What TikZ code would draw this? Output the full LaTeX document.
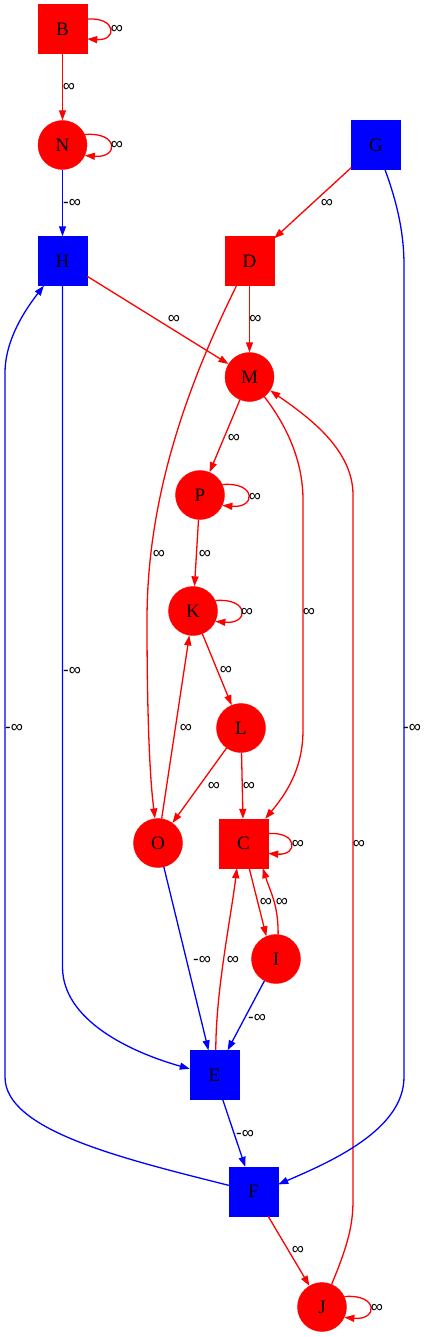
\documentclass[tikz,border=0pt]{standalone}
\usepackage{fontspec}
\setmainfont{Liberation Serif}
\newfontfamily\lblfont{Liberation Sans}
\usetikzlibrary{arrows.meta}
\definecolor{gred}{HTML}{FF0000}
\definecolor{gblue}{HTML}{0000FF}
\tikzset{
  sq/.style={rectangle, minimum width=49pt, minimum height=49pt, inner sep=0pt, font=\fontsize{19}{19}\selectfont},
  ci/.style={circle, minimum size=49pt, inner sep=0pt, font=\fontsize{19}{19}\selectfont},
  rednode/.style={fill=gred, draw=gred},
  bluenode/.style={fill=gblue, draw=gblue},
  edge/.style={line width=1.3pt, -{Triangle[length=10pt,width=7pt]}},
  redge/.style={edge, draw=gred},
  bedge/.style={edge, draw=gblue},
  lbl/.style={inner sep=0pt, font=\lblfont\fontsize{17}{17}\selectfont}
}
\begin{document}
\begin{tikzpicture}[x=1pt,y=-1pt]
\useasboundingbox (0,0) rectangle (429,1337);
% nodes
\node[sq,rednode] (B) at (62.5,29) {B};
\node[ci,rednode] (N) at (62.5,145) {N};
\node[sq,bluenode] (G) at (376,145) {G};
\node[sq,bluenode] (H) at (62.5,261) {H};
\node[sq,rednode] (D) at (249.5,261) {D};
\node[ci,rednode] (M) at (249.5,377) {M};
\node[ci,rednode] (P) at (200,495) {P};
\node[ci,rednode] (K) at (193,611) {K};
\node[ci,rednode] (L) at (241,728) {L};
\node[ci,rednode] (O) at (158,843) {O};
\node[sq,rednode] (C) at (243.5,843.5) {C};
\node[ci,rednode] (I) at (276,959) {I};
\node[sq,bluenode] (E) at (214.5,1075) {E};
\node[sq,bluenode] (F) at (253.5,1191.5) {F};
\node[ci,rednode] (J) at (322,1307) {J};

% self loops
\draw[redge] (B.22) .. controls +(30,-2) and +(30,2) .. (B.-22);
\draw[redge] (N.25) .. controls +(34,-3) and +(34,3) .. (N.-25);
\draw[redge] (P.25) .. controls +(34,-3) and +(34,3) .. (P.-25);
\draw[redge] (K.25) .. controls +(34,-3) and +(34,3) .. (K.-25);
\draw[redge] (C.22) .. controls +(30,-2) and +(30,2) .. (C.-22);
\draw[redge] (J.25) .. controls +(34,-3) and +(34,3) .. (J.-25);

% straight edges
\draw[redge] (B) -- (N);
\draw[bedge] (N) -- (H);
\draw[redge] (G) -- (D);
\draw[redge] (H) -- (M);
\draw[redge] (D) -- (M);
\draw[redge] (M) -- (P);
\draw[redge] (P) -- (K);
\draw[redge] (K) -- (L);
\draw[redge] (L) -- (O);
\draw[redge] (L) -- (C);
\draw[redge] (O) -- (K);
\draw[bedge] (O) -- (E);
\draw[redge] (C.-77) -- (I.113);
\draw[redge] (I.85) .. controls +(0,-30) and +(8,25) .. (C.-52);
\draw[redge] (E.87) .. controls +(0,-60) and +(-6,50) .. (C.-105);
\draw[bedge] (I) -- (E);
\draw[bedge] (E) -- (F);
\draw[redge] (F) -- (J);

% curved edges
\draw[redge] ([xshift=-13pt]D.south) .. controls (185,390) and (147,500) .. (147,620)
   .. controls (147,720) and (150,780) .. (O.97);
\draw[redge] (M.-53) .. controls (290,430) and (303,465) .. (303,500) -- (303,730)
   .. controls (303,770) and (285,795) .. ([xshift=-3pt]C.north east);
\draw[redge] (J.67) .. controls (348,1245) and (353,1225) .. (353,1200) -- (353,495)
   .. controls (353,450) and (310,418) .. (M.-33);
\draw[bedge] ([xshift=9pt]G.south) .. controls (398,205) and (404,235) .. (404,265) -- (404,1077)
   .. controls (404,1130) and (330,1162) .. (F.16);
\draw[bedge] (H.south) -- (62.5,967) .. controls (62.5,1020) and (130,1052) .. (E.166);
\draw[bedge] (F.166) .. controls (120,1158) and (5,1130) .. (5,1077) -- (5,373)
   .. controls (5,340) and (25,310) .. (H.233);

% labels
\node[lbl] (lBB) at (117,29) {∞};
\node[lbl] (lBN) at (69,87) {∞};
\node[lbl] (lNN) at (117,145) {∞};
\node[lbl] (lNH) at (72,203) {-∞};
\node[lbl] (lGD) at (327,203) {∞};
\node[lbl] (lDM) at (255.5,319) {∞};
\node[lbl] (lHM) at (174,319) {∞};
\node[lbl] (lMP) at (234,438) {∞};
\node[lbl] (lPP) at (255,497) {∞};
\node[lbl] (lDO) at (159,554) {∞};
\node[lbl] (lPK) at (205,554) {∞};
\node[lbl] (lKK) at (247,612) {∞};
\node[lbl] (lMC) at (309,612) {∞};
\node[lbl] (lKL) at (226,670) {∞};
\node[lbl] (lHE) at (72,671) {-∞};
\node[lbl] (lOK) at (186,728) {∞};
\node[lbl] (lFH) at (14,728) {-∞};
\node[lbl] (lGF) at (412,728) {-∞};
\node[lbl] (lLO) at (214,786) {∞};
\node[lbl] (lLC) at (249,786) {∞};
\node[lbl] (lCC) at (298,844) {∞};
\node[lbl] (lJM) at (359,844) {∞};
\node[lbl] (lCI) at (266,902) {∞};
\node[lbl] (lIC) at (282,902) {∞};
\node[lbl] (lOE) at (202,960) {-∞};
\node[lbl] (lEC) at (233,960) {∞};
\node[lbl] (lIE) at (257,1018) {-∞};
\node[lbl] (lEF) at (245,1134) {-∞};
\node[lbl] (lFJ) at (298,1250) {∞};
\node[lbl] (lJJ) at (377,1308) {∞};
\end{tikzpicture}
\end{document}
